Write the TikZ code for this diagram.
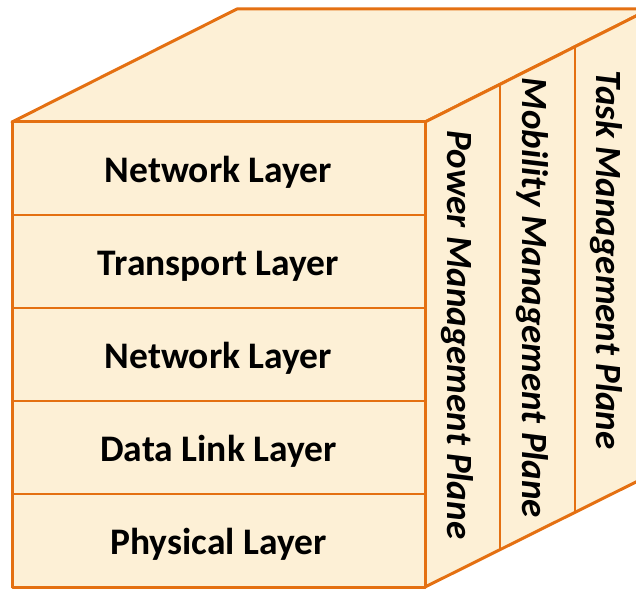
\documentclass[tikz,border=0pt]{standalone}
\usepackage{fontspec}
\setmainfont{Carlito}
\usepackage{tikz}
\usetikzlibrary{positioning}
\definecolor{edgeorange}{RGB}{228,112,18}
\definecolor{facefill}{RGB}{253,240,214}

\begin{document}
\begin{tikzpicture}[
    x=1pt, y=-1pt,
    face/.style={draw=edgeorange, fill=facefill, line width=3pt, line join=round},
    layer/.style={rectangle, draw=edgeorange, fill=facefill, line width=2.6pt,
                  minimum width=413pt, minimum height=93pt, inner sep=0pt, outer sep=0pt,
                  text height=35pt, text depth=7pt,
                  font=\bfseries\fontsize{37.5}{42}\selectfont},
    plane/.style={rotate=-90, inner sep=0pt, font=\bfseries\itshape\fontsize{37}{42}\selectfont},
    divider/.style={draw=edgeorange, line width=2.6pt}
]
\useasboundingbox (0,0) rectangle (636,588);
\clip (0,0) rectangle (636,588);

% top and side faces of the block
\draw[face] (12,122) coordinate (ftl) -- (237,9) -- (650,9) -- (425,122) coordinate (ftr) -- cycle;
\draw[face] (ftr) -- (650,9) -- (650,475) -- (425,587) coordinate (fbr) -- cycle;

% Front face - protocol stack
\node[layer] (net1) at (218.5,168.5) {Network Layer};
\node[layer, below=0pt of net1] (transport) {Transport Layer};
\node[layer, below=0pt of transport] (net2) {Network Layer};
\node[layer, below=0pt of net2] (datalink) {Data Link Layer};
\node[layer, below=0pt of datalink] (physical) {Physical Layer};
\draw[face, fill=none] (ftl) rectangle (fbr);

% Side face - management planes
\coordinate (d1t) at (500,84.5);
\coordinate (d1b) at (500,549.5);
\coordinate (d2t) at (575,47);
\coordinate (d2b) at (575,512);
\draw[divider] (d1t) -- (d1b);
\draw[divider] (d2t) -- (d2b);
\node[plane] (power) at (457,335) {Power Management Plane};
\node[plane] (mobility) at (532,298) {Mobility Management Plane};
\node[plane] (task) at (606,260) {Task Management Plane};

\end{tikzpicture}
\end{document}
